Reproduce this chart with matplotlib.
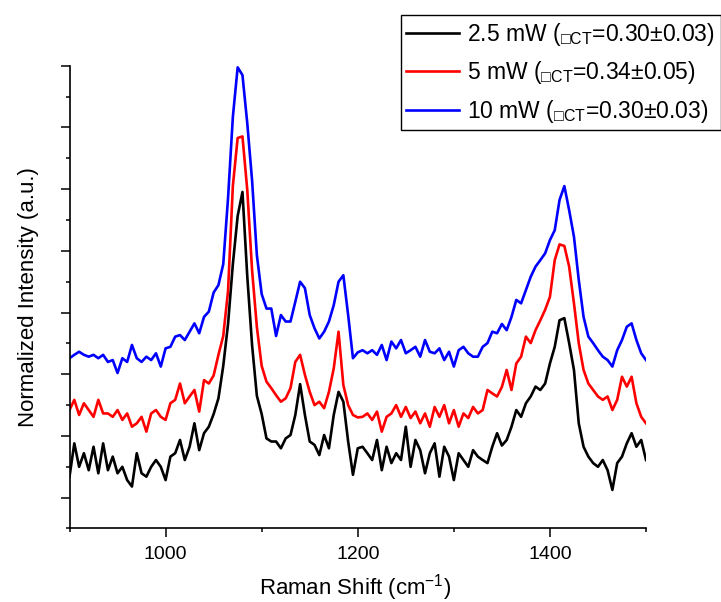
import numpy as np
import matplotlib
import matplotlib.pyplot as plt
from matplotlib.ticker import MultipleLocator

matplotlib.use("Agg")

plt.rcParams["font.family"] = ["Liberation Sans", "DejaVu Sans"]
plt.rcParams["mathtext.fontset"] = "custom"
plt.rcParams["mathtext.rm"] = "Liberation Sans"
plt.rcParams["mathtext.it"] = "Liberation Sans:italic"

# Raman shift grid (cm-1), 5 cm-1 steps
shift = np.arange(900, 1505, 5)

int_2p5mw = [
    16.8, 27.6, 20.0, 24.4, 18.9, 26.5, 17.9, 27.6, 18.9, 23.3,
    17.9, 20.0, 15.7, 13.6, 24.4, 17.9, 16.8, 20.0, 22.2, 20.0,
    15.7, 23.3, 24.4, 28.7, 22.2, 26.5, 34.1, 25.4, 30.9, 33.0,
    37.1, 42.2, 52.7, 66.3, 85.7, 101.3, 109.1, 81.8, 59.5, 43.0,
    37.1, 29.2, 28.2, 28.2, 26.0, 29.2, 30.3, 36.8, 46.8, 36.8,
    28.2, 27.1, 23.8, 30.3, 26.0, 36.8, 44.3, 41.1, 28.2, 17.4,
    26.0, 26.5, 24.4, 22.2, 28.7, 18.9, 26.5, 21.2, 24.4, 22.2,
    33.0, 20.0, 28.7, 25.4, 17.9, 24.4, 27.6, 16.8, 26.5, 23.3,
    15.7, 24.4, 22.2, 20.0, 25.4, 23.3, 22.2, 21.2, 26.5, 30.9,
    26.9, 28.7, 33.0, 38.4, 36.2, 40.6, 42.8, 46.0, 44.9, 47.0,
    53.5, 58.9, 67.5, 68.2, 60.1, 51.4, 34.1, 26.5, 23.3, 21.2,
    20.0, 22.2, 18.9, 12.5, 21.2, 23.3, 27.6, 30.9, 26.5, 28.7,
    22.2,
]

int_5mw = [
    38.4, 41.7, 36.8, 40.6, 38.4, 36.2, 41.7, 37.3, 37.3, 36.2,
    38.4, 35.2, 37.3, 33.0, 34.1, 36.2, 31.4, 37.3, 38.4, 36.2,
    35.2, 40.6, 41.7, 47.0, 40.6, 42.8, 44.9, 37.9, 48.1, 47.0,
    49.6, 56.3, 62.4, 77.0, 111.0, 126.6, 127.1, 109.8, 83.8, 65.3,
    52.7, 47.6, 45.5, 43.2, 41.1, 42.2, 45.5, 54.0, 56.3, 49.8,
    44.3, 40.0, 41.1, 39.0, 44.3, 51.9, 63.8, 46.5, 40.0, 36.8,
    36.0, 36.2, 37.3, 35.2, 37.9, 31.4, 36.2, 37.3, 40.0, 36.2,
    39.4, 35.8, 37.9, 34.1, 37.3, 33.0, 39.4, 36.2, 40.0, 34.1,
    38.4, 33.0, 37.3, 35.8, 39.4, 37.3, 38.4, 44.9, 43.8, 42.8,
    45.9, 51.4, 44.9, 53.5, 55.7, 62.2, 60.1, 64.3, 67.5, 70.9,
    75.1, 87.0, 92.1, 91.6, 84.9, 73.0, 60.1, 51.4, 47.0, 44.9,
    42.8, 41.7, 42.8, 38.4, 41.7, 49.2, 46.0, 49.2, 40.6, 36.2,
    34.1,
]

int_10mw = [
    55.2, 56.3, 57.3, 56.3, 55.7, 56.3, 55.2, 56.3, 54.0, 54.6,
    50.4, 55.2, 54.0, 59.5, 55.2, 54.0, 55.7, 54.6, 56.8, 52.5,
    58.4, 58.9, 62.2, 62.7, 61.1, 63.8, 66.5, 63.3, 68.6, 70.3,
    76.5, 78.9, 85.7, 107.1, 133.4, 149.5, 147.0, 131.4, 112.9, 88.6,
    76.0, 71.3, 71.3, 62.4, 69.2, 67.1, 67.1, 73.5, 80.0, 77.9,
    69.2, 64.9, 61.6, 63.8, 67.1, 72.4, 80.0, 82.1, 69.2, 55.2,
    57.1, 57.8, 56.8, 57.8, 56.3, 59.5, 54.6, 60.6, 58.4, 61.1,
    56.8, 57.8, 58.9, 55.7, 61.1, 57.3, 56.8, 58.4, 54.6, 57.3,
    52.5, 57.8, 58.9, 56.8, 55.7, 55.7, 58.9, 60.1, 63.8, 63.3,
    66.3, 64.3, 68.6, 74.1, 73.0, 77.3, 81.6, 84.9, 87.0, 89.2,
    93.5, 96.7, 106.5, 111.0, 103.2, 94.6, 80.6, 68.6, 62.2, 60.1,
    57.8, 55.7, 54.6, 52.5, 57.8, 61.1, 65.4, 66.5, 61.1, 56.8,
    54.6,
]

labels = [
    "2.5 mW ($_{\u25a1\\mathrm{CT}}$=0.30\u00b10.03)",
    "5 mW ($_{\u25a1\\mathrm{CT}}$=0.34\u00b10.05)",
    "10 mW ($_{\u25a1\\mathrm{CT}}$=0.30\u00b10.03)",
]
colors = ["black", "red", "blue"]

fig = plt.figure(figsize=(7.21, 6.02), dpi=100)
ax = fig.add_axes([0.0964, 0.1221, 0.7996, 0.7686])

for y, c, lab in zip([int_2p5mw, int_5mw, int_10mw], colors, labels):
    ax.plot(shift, y, color=c, lw=1.9, label=lab)

ax.set_xlim(900, 1500)
ax.set_ylim(0, 150)

ax.xaxis.set_major_locator(MultipleLocator(200))
ax.xaxis.set_minor_locator(MultipleLocator(100))
ax.set_yticks(np.arange(10, 151, 20))
ax.set_yticks(np.arange(0, 150, 20), minor=True)
ax.set_yticklabels([])

ax.tick_params(which="major", direction="out", length=6.2, width=1.1,
               labelsize=14, pad=6.5)
ax.tick_params(which="minor", direction="out", length=2.8, width=1.1)

for side in ["top", "right"]:
    ax.spines[side].set_visible(False)
for side in ["left", "bottom"]:
    ax.spines[side].set_linewidth(1.2)

ax.set_xlabel("Raman Shift (cm$^{-1}$)", fontsize=16)
ax.xaxis.set_label_coords(0.495, -0.095)
ax.set_ylabel("Normalized Intensity (a.u.)", fontsize=16, labelpad=9)

leg = ax.legend(loc="upper right", bbox_to_anchor=(0.9995, 0.975),
                bbox_transform=fig.transFigure, borderaxespad=0,
                fontsize=16.5, frameon=True, fancybox=False,
                handlelength=2.3, handletextpad=0.35, labelspacing=0.5,
                borderpad=0.25)
leg.get_frame().set_edgecolor("black")
leg.get_frame().set_linewidth(1.0)
leg.get_frame().set_alpha(1)

fig.savefig("out.png", dpi=100)
